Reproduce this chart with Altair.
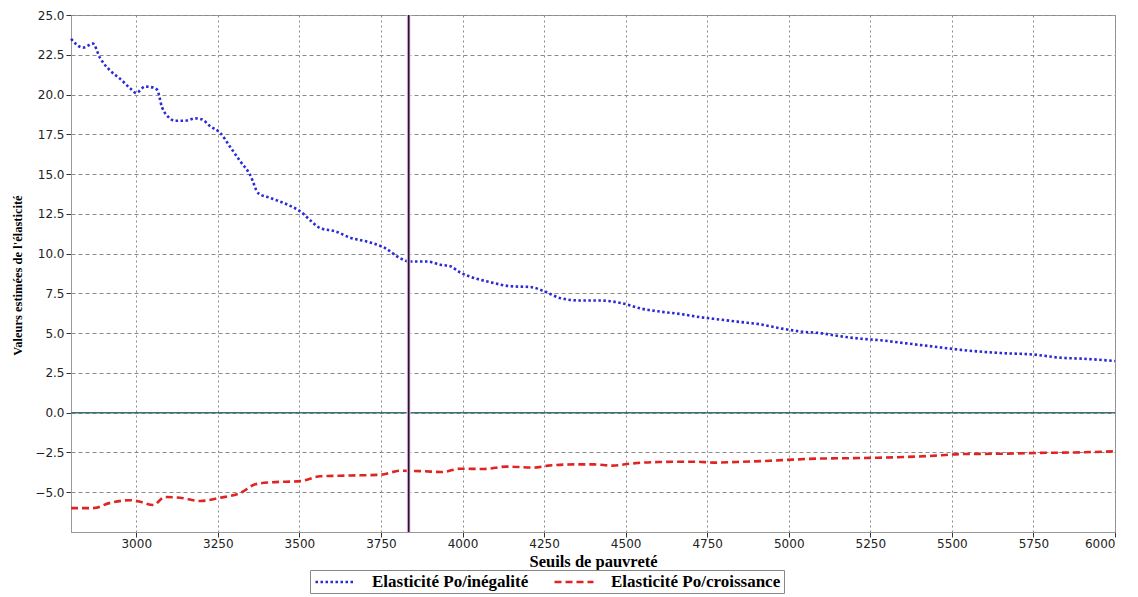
import altair as alt
import pandas as pd

series_names = ["Elasticité Po/inégalité", "Elasticité Po/croissance"]

blue_x = [2800, 2837, 2867, 2889, 2920, 2950, 2981, 3000, 3027, 3050, 3064, 3079, 3098, 3119,
          3150, 3180, 3200, 3227, 3257, 3288, 3319, 3349, 3374, 3411, 3472, 3503, 3533, 3564,
          3610, 3656, 3717, 3763, 3810, 3840, 3892, 3932, 3963, 3994, 4024, 4086, 4147, 4208,
          4254, 4300, 4362, 4423, 4485, 4546, 4607, 4669, 4730, 4791, 4852, 4914, 4975, 5037,
          5098, 5159, 5221, 5282, 5344, 5405, 5466, 5528, 5651, 5752, 5835, 5896, 6000]
blue_y = [23.5, 22.95, 23.2, 22.3, 21.5, 21.0, 20.4, 20.1, 20.5, 20.45, 20.3, 19.2, 18.6, 18.35,
          18.35, 18.5, 18.45, 18.0, 17.6, 16.7, 15.8, 14.95, 13.8, 13.5, 13.0, 12.65, 12.1, 11.6,
          11.4, 11.0, 10.7, 10.35, 9.7, 9.5, 9.5, 9.3, 9.2, 8.8, 8.55, 8.2, 7.95, 7.9,
          7.6, 7.2, 7.05, 7.05, 6.9, 6.55, 6.35, 6.2, 6.0, 5.85, 5.7, 5.55, 5.3, 5.1,
          5.0, 4.8, 4.65, 4.55, 4.4, 4.25, 4.1, 3.95, 3.75, 3.65, 3.45, 3.4, 3.25]

red_x = [2800, 2867, 2920, 2981, 3012, 3052, 3088, 3134, 3196, 3257, 3319, 3365, 3411, 3503,
         3564, 3656, 3748, 3810, 3880, 3937, 3993, 4065, 4135, 4220, 4262, 4347, 4403, 4460,
         4515, 4601, 4715, 4770, 4840, 4942, 5012, 5083, 5224, 5365, 5450, 5534, 5648, 5761,
         5875, 6000]
red_y = [-6.0, -6.0, -5.67, -5.5, -5.6, -5.8, -5.3, -5.35, -5.55, -5.35, -5.05, -4.5, -4.38, -4.3,
         -4.0, -3.95, -3.9, -3.65, -3.68, -3.73, -3.52, -3.54, -3.39, -3.45, -3.33, -3.25, -3.25, -3.33,
         -3.2, -3.1, -3.08, -3.14, -3.1, -3.02, -2.95, -2.89, -2.85, -2.78, -2.7, -2.6, -2.58, -2.53,
         -2.5, -2.43]

x_ticks = [3000, 3250, 3500, 3750, 4000, 4250, 4500, 4750, 5000, 5250, 5500, 5750, 6000]
y_ticks = [-5.0, -2.5, 0.0, 2.5, 5.0, 7.5, 10.0, 12.5, 15.0, 17.5, 20.0, 22.5, 25.0]
x_domain = [2800, 6000]
y_domain = [-7.5, 25.0]
vline_x = [3835]
hline_y = [0.0]

df = pd.concat([
    pd.DataFrame({"x": blue_x, "y": blue_y, "serie": series_names[0]}),
    pd.DataFrame({"x": red_x, "y": red_y, "serie": series_names[1]}),
], ignore_index=True)

x_scale = alt.Scale(domain=x_domain, nice=False, zero=False)
y_scale = alt.Scale(domain=y_domain, nice=False, zero=False)

x_axis = alt.Axis(
    values=x_ticks, format="d", grid=True, gridDash=[2, 3], gridColor="#8a8a8a",
    tickSize=5, tickColor="#333333", domainColor="#999999",
    labelFont="DejaVu Sans", labelFontSize=12, labelColor="#222222", labelPadding=1,
    title="Seuils de pauvreté", titleFont="Liberation Serif", titleFontWeight="bold",
    titleFontSize=16.5, titleColor="black", titleY=29, titleBaseline="middle",
)
y_axis = alt.Axis(
    values=y_ticks, format=".1f", grid=True, gridDash=[4, 3], gridColor="#8a8a8a",
    tickSize=5, tickColor="#333333", domainColor="#999999",
    labelFont="DejaVu Sans", labelFontSize=12, labelColor="#222222", labelPadding=2,
    title="Valeurs estimées de l'élasticité", titleFont="Liberation Serif", titleFontWeight="bold",
    titleFontSize=12.5, titleColor="black", titleX=-54, titleY=260, titleAngle=270,
    titleBaseline="middle", titleAlign="center",
)

legend = alt.Legend(
    title=None, orient="none", legendX=239, legendY=555, direction="horizontal",
    strokeColor="#888888", fillColor="white", padding=3,
    labelFont="Liberation Serif", labelFontWeight="bold", labelFontSize=17, labelColor="black",
    labelLimit=400, symbolType="M-2.6,0L2.6,0", symbolSize=225, symbolStrokeWidth=2.5,
    symbolOffset=13, columnPadding=20, labelOffset=28,
)

lines = alt.Chart(df).mark_line(strokeWidth=2.6, interpolate="monotone").encode(
    x=alt.X("x:Q", scale=x_scale, axis=x_axis),
    y=alt.Y("y:Q", scale=y_scale, axis=y_axis),
    color=alt.Color("serie:N", scale=alt.Scale(domain=series_names, range=["#2a2ad6", "#e02424"]),
                    legend=legend),
    strokeDash=alt.StrokeDash("serie:N", scale=alt.Scale(domain=series_names, range=[[2.5, 2.5], [7, 4]]),
                              legend=legend),
)

zero_rule = alt.Chart(pd.DataFrame({"y": hline_y})).mark_rule(color="#3a7272", strokeWidth=1.6).encode(
    y=alt.Y("y:Q", scale=y_scale),
)

vdf = pd.DataFrame({"x": vline_x})
v_halo = alt.Chart(vdf).mark_rule(color="#f0d4f0", strokeWidth=4).encode(x=alt.X("x:Q", scale=x_scale))
v_core = alt.Chart(vdf).mark_rule(color="#2a0f2f", strokeWidth=1.8).encode(x=alt.X("x:Q", scale=x_scale))

chart = alt.layer(zero_rule, lines, v_halo, v_core).properties(
    width=1044, height=517,
    autosize=alt.AutoSizeParams(type="none"),
    padding={"left": 71, "top": 15, "right": 23, "bottom": 65},
    background="white",
).configure_view(stroke="#999999", strokeWidth=1)

chart.save("out.html", embed_options={"renderer": "svg", "actions": False})
